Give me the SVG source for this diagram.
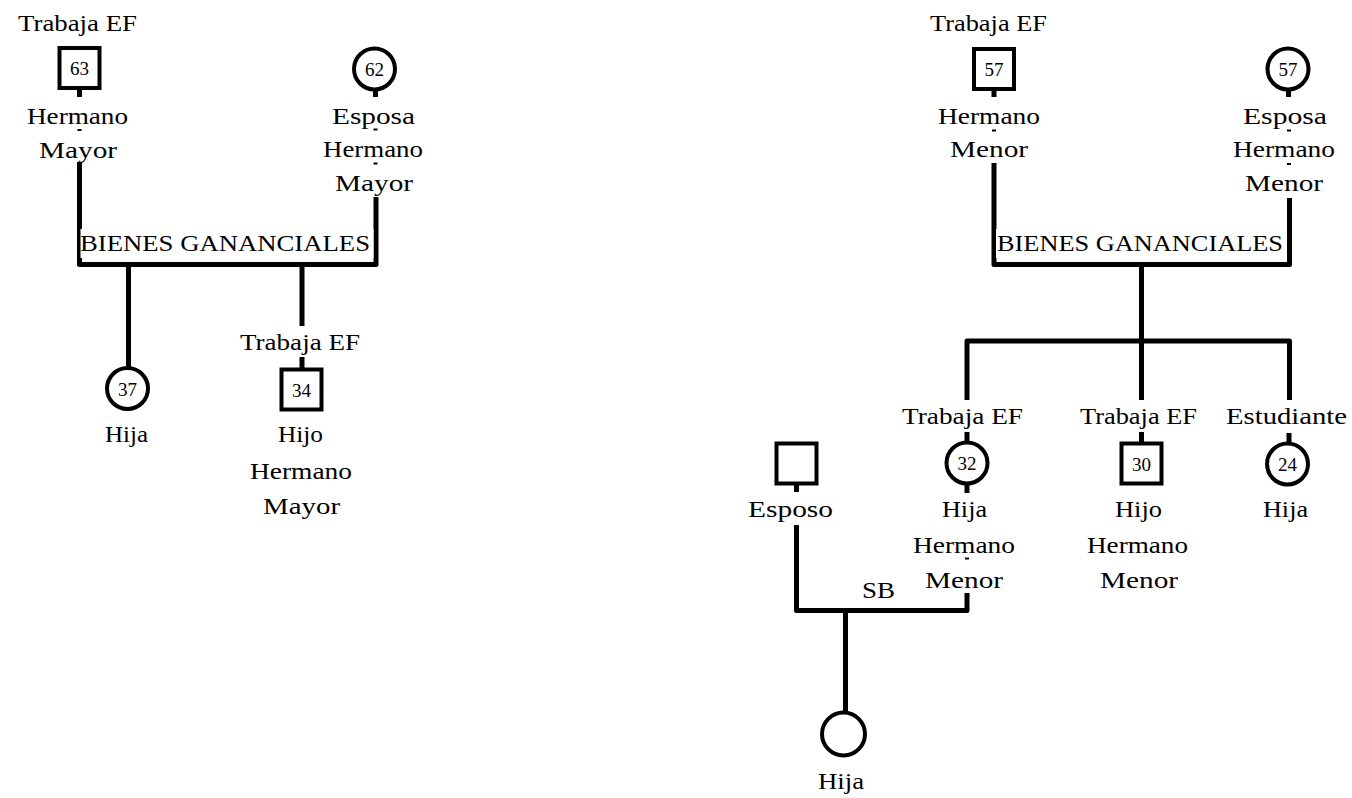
<svg xmlns="http://www.w3.org/2000/svg" width="1352" height="798" viewBox="0 0 1352 798">
<style>
.ln{stroke:#000;stroke-width:5;fill:none;stroke-linejoin:round}
.tk{stroke:#000;stroke-width:5;fill:none}
.sh{fill:#fff;stroke:#000;stroke-width:4}
.t{font-family:"Liberation Serif","Times New Roman",serif;font-size:24px;text-anchor:middle;fill:#000}
.n{font-family:"Liberation Serif","Times New Roman",serif;font-size:19px;text-anchor:middle;fill:#000}
.d{fill:#000}
.bx{fill:#fff}
</style>
<rect width="1352" height="798" fill="#fff"/>
<g id="connectors">
  <polyline class="ln" points="79.5,162 79.5,264.5 376,264.5 376,197"/>
  <line class="ln" x1="128.5" y1="264.5" x2="128.5" y2="367"/>
  <line class="ln" x1="302" y1="264.5" x2="302" y2="326"/>
  <polyline class="ln" points="994,163 994,264.5 1289.5,264.5 1289.5,198"/>
  <line class="ln" x1="1141.5" y1="264.5" x2="1141.5" y2="400"/>
  <polyline class="ln" points="967,400 967,341 1289.5,341 1289.5,400"/>
  <polyline class="ln" points="796.5,525 796.5,610.5 967,610.5 967,593"/>
  <line class="ln" x1="845.5" y1="610.5" x2="845.5" y2="712"/>
  <g id="ticks">
    <line class="tk" x1="79.5" y1="89" x2="79.5" y2="97"/>
    <line class="tk" x1="375.5" y1="90" x2="375.5" y2="97"/>
    <line class="tk" x1="994" y1="89" x2="994" y2="97"/>
    <line class="tk" x1="1288.5" y1="90" x2="1288.5" y2="97"/>
    <line class="tk" x1="302" y1="357" x2="302" y2="368"/>
    <line class="tk" x1="967" y1="432" x2="967" y2="441"/>
    <line class="tk" x1="967" y1="485" x2="967" y2="493"/>
    <line class="tk" x1="1141.5" y1="432" x2="1141.5" y2="443"/>
    <line class="tk" x1="1289" y1="433" x2="1289" y2="443"/>
    <line class="tk" x1="796.5" y1="484" x2="796.5" y2="492"/>
  </g>
  <g id="dashes">
    <rect class="d" x="77.5" y="129" width="4" height="2"/>
    <rect class="d" x="373.5" y="128.5" width="4" height="2"/>
    <rect class="d" x="373.5" y="162.5" width="4" height="2"/>
    <rect class="d" x="992" y="129.5" width="4" height="2"/>
    <rect class="d" x="1287" y="129.5" width="4" height="2"/>
    <rect class="d" x="1287" y="163" width="4" height="2"/>
    <rect class="d" x="965" y="557.5" width="4" height="2"/>
  </g>
  <g id="union-labels">
    <rect class="bx" x="80.5" y="229" width="293" height="29"/>
    <text class="t" x="225" y="251" textLength="290" lengthAdjust="spacingAndGlyphs">BIENES GANANCIALES</text>
    <rect class="bx" x="996" y="229" width="291" height="29"/>
    <text class="t" x="1140" y="251" textLength="286" lengthAdjust="spacingAndGlyphs">BIENES GANANCIALES</text>
    <text class="t" x="878.5" y="598" textLength="33" lengthAdjust="spacingAndGlyphs">SB</text>
  </g>
</g>
<g id="hermano-mayor">
  <text class="t" x="77.5" y="31" textLength="119" lengthAdjust="spacingAndGlyphs">Trabaja EF</text>
  <rect class="sh" x="59.5" y="48" width="40" height="40"/>
  <text class="n" x="79.5" y="75">63</text>
  <text class="t" x="77.5" y="124" textLength="101" lengthAdjust="spacingAndGlyphs">Hermano</text>
  <text class="t" x="78" y="157.5" textLength="78" lengthAdjust="spacingAndGlyphs">Mayor</text>
</g>
<g id="esposa-hermano-mayor">
  <circle class="sh" cx="374.5" cy="69" r="20.5"/>
  <text class="n" x="374.5" y="76">62</text>
  <text class="t" x="373.5" y="124" textLength="83" lengthAdjust="spacingAndGlyphs">Esposa</text>
  <text class="t" x="373" y="157" textLength="100" lengthAdjust="spacingAndGlyphs">Hermano</text>
  <text class="t" x="374" y="191" textLength="78" lengthAdjust="spacingAndGlyphs">Mayor</text>
</g>
<g id="hija-mayor">
  <circle class="sh" cx="127.5" cy="388.5" r="20.5"/>
  <text class="n" x="127.5" y="395.5">37</text>
  <text class="t" x="126.5" y="442" textLength="43" lengthAdjust="spacingAndGlyphs">Hija</text>
</g>
<g id="hijo-hermano-mayor">
  <text class="t" x="300" y="350" textLength="120" lengthAdjust="spacingAndGlyphs">Trabaja EF</text>
  <rect class="sh" x="281.5" y="369.5" width="40" height="40"/>
  <text class="n" x="301.5" y="396.5">34</text>
  <text class="t" x="300.5" y="442" textLength="45" lengthAdjust="spacingAndGlyphs">Hijo</text>
  <text class="t" x="301" y="479" textLength="102" lengthAdjust="spacingAndGlyphs">Hermano</text>
  <text class="t" x="301.5" y="514" textLength="77" lengthAdjust="spacingAndGlyphs">Mayor</text>
</g>
<g id="hermano-menor">
  <text class="t" x="988.5" y="31" textLength="117" lengthAdjust="spacingAndGlyphs">Trabaja EF</text>
  <rect class="sh" x="974" y="49" width="40" height="40"/>
  <text class="n" x="994" y="76">57</text>
  <text class="t" x="989" y="124" textLength="102" lengthAdjust="spacingAndGlyphs">Hermano</text>
  <text class="t" x="989" y="157" textLength="78" lengthAdjust="spacingAndGlyphs">Menor</text>
</g>
<g id="esposa-hermano-menor">
  <circle class="sh" cx="1288" cy="69" r="20.5"/>
  <text class="n" x="1288" y="76">57</text>
  <text class="t" x="1285" y="124" textLength="84" lengthAdjust="spacingAndGlyphs">Esposa</text>
  <text class="t" x="1284" y="157" textLength="102" lengthAdjust="spacingAndGlyphs">Hermano</text>
  <text class="t" x="1284" y="191" textLength="78" lengthAdjust="spacingAndGlyphs">Menor</text>
</g>
<g id="hija-hermano-menor">
  <text class="t" x="962.5" y="424" textLength="121" lengthAdjust="spacingAndGlyphs">Trabaja EF</text>
  <circle class="sh" cx="967" cy="463" r="20.5"/>
  <text class="n" x="967" y="470">32</text>
  <text class="t" x="964.5" y="517" textLength="45" lengthAdjust="spacingAndGlyphs">Hija</text>
  <text class="t" x="964" y="553" textLength="102" lengthAdjust="spacingAndGlyphs">Hermano</text>
  <text class="t" x="964" y="588" textLength="78" lengthAdjust="spacingAndGlyphs">Menor</text>
</g>
<g id="hijo-hermano-menor">
  <text class="t" x="1138.5" y="424" textLength="117" lengthAdjust="spacingAndGlyphs">Trabaja EF</text>
  <rect class="sh" x="1121.5" y="443.5" width="40" height="40"/>
  <text class="n" x="1141.5" y="470.5">30</text>
  <text class="t" x="1138.5" y="517" textLength="47" lengthAdjust="spacingAndGlyphs">Hijo</text>
  <text class="t" x="1137.5" y="553" textLength="101" lengthAdjust="spacingAndGlyphs">Hermano</text>
  <text class="t" x="1139" y="588" textLength="78" lengthAdjust="spacingAndGlyphs">Menor</text>
</g>
<g id="hija-menor">
  <text class="t" x="1286.5" y="424" textLength="121" lengthAdjust="spacingAndGlyphs">Estudiante</text>
  <circle class="sh" cx="1287.5" cy="464" r="20.5"/>
  <text class="n" x="1287.5" y="471">24</text>
  <text class="t" x="1285.5" y="517" textLength="45" lengthAdjust="spacingAndGlyphs">Hija</text>
</g>
<g id="esposo">
  <rect class="sh" x="776.5" y="443.5" width="40" height="40"/>
  <text class="t" x="790.5" y="517" textLength="85" lengthAdjust="spacingAndGlyphs">Esposo</text>
</g>
<g id="nieta">
  <circle class="sh" cx="843.5" cy="734" r="21.5"/>
  <text class="t" x="841" y="789" textLength="46" lengthAdjust="spacingAndGlyphs">Hija</text>
</g>
</svg>
